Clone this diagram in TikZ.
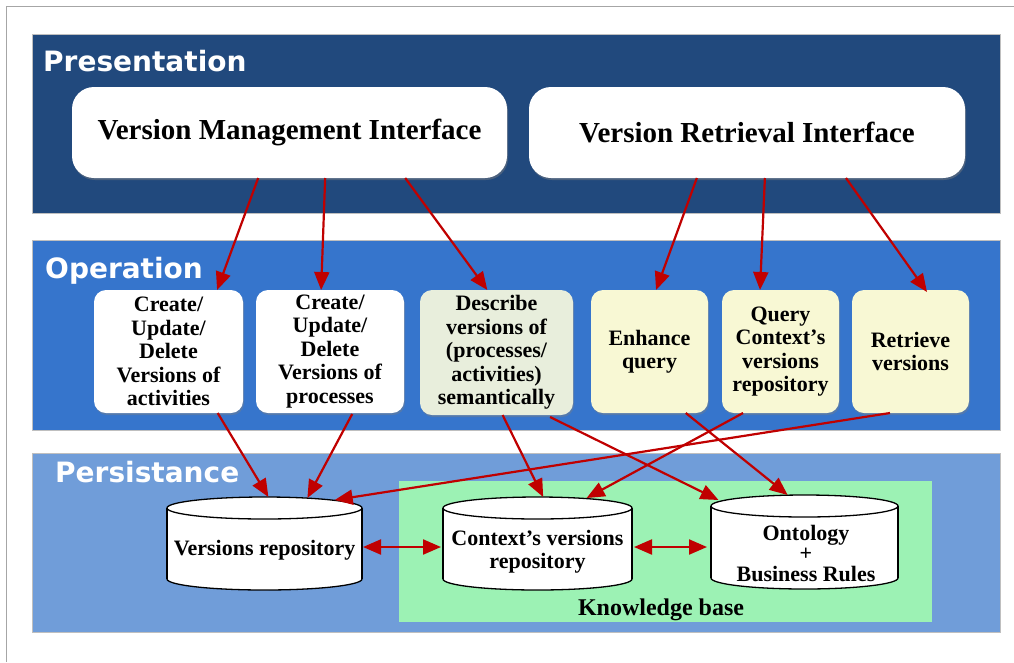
\documentclass[tikz,border=0pt]{standalone}
\usepackage{fontspec}
\setmainfont{Liberation Serif}
\newfontfamily\bandfont{DejaVu Sans}
\usetikzlibrary{arrows.meta,calc,shadows}
\definecolor{presblue}{RGB}{33,73,125}
\definecolor{opblue}{RGB}{54,117,204}
\definecolor{persblue}{RGB}{112,157,217}
\definecolor{kbgreen}{RGB}{156,242,180}
\definecolor{descfill}{RGB}{232,238,220}
\definecolor{qfill}{RGB}{248,248,212}
\definecolor{arrred}{RGB}{192,0,0}
\newcommand\drawcyl[4]{%
  \pgfmathsetmacro\cX{(#1+#2)/2}%
  \pgfmathsetmacro\cRX{(#2-#1)/2}%
  \draw[fill=white, line width=1.3pt] (\cX,#4-11) ellipse [x radius=\cRX pt, y radius=11pt];
  \fill[white] (#1,#3+11) rectangle (#2,#4-11);
  \draw[line width=1.3pt] (#1,#3+11) -- (#1,#4-11);
  \draw[line width=1.3pt] (#2,#3+11) -- (#2,#4-11);
  \draw[fill=white, line width=1.3pt] (\cX,#3+11) ellipse [x radius=\cRX pt, y radius=11pt];
}
\begin{document}
\begin{tikzpicture}[x=1pt,y=-1pt,
  band/.style={draw=gray!50, line width=0.8pt, anchor=north west, inner sep=0pt, outer sep=0pt},
  bandtitle/.style={anchor=base west, text=white, font=\bandfont\bfseries\fontsize{28}{30}\selectfont, inner sep=0pt},
  iface/.style={fill=white, rounded corners=22pt, minimum width=435pt, minimum height=91pt, inner sep=0pt, outer sep=0pt,
    font=\bfseries\fontsize{29}{31}\selectfont, drop shadow={opacity=0.45, shadow xshift=1pt, shadow yshift=-2pt}},
  opbox/.style={rounded corners=12pt, minimum height=123pt, inner sep=0pt, outer sep=0pt, align=center,
    font=\bfseries\fontsize{22}{23.5}\selectfont, drop shadow={opacity=0.4, shadow xshift=1pt, shadow yshift=-2pt}},
  cylbox/.style={minimum height=93pt, inner sep=0pt, outer sep=0pt},
  cyltext/.style={align=center, inner sep=0pt},
  link/.style={draw=arrred, line width=2.2pt, -{Triangle[length=18pt,width=15pt]}},
  dlink/.style={draw=arrred, line width=2.2pt, {Triangle[length=18pt,width=15pt]}-{Triangle[length=18pt,width=15pt]}}
]
\useasboundingbox (0,0) rectangle (1014,662);
\fill[white] (0,0) rectangle (1014,662);
\draw[gray!70, line width=1pt] (6,662) -- (6,6) -- (1014,6);

% bands
\node[band, fill=presblue, minimum width=968pt, minimum height=179pt] (pres) at (32,34) {};
\node[band, fill=opblue, minimum width=968pt, minimum height=190pt] (oper) at (32,240) {};
\node[band, fill=persblue, minimum width=968pt, minimum height=179pt] (pers) at (32,453) {};
\node[anchor=north west, fill=kbgreen, minimum width=533pt, minimum height=141pt, inner sep=0pt, outer sep=0pt] (kb) at (399,481) {};

\node[bandtitle] (prest) at (43,71) {Presentation};
\node[bandtitle] (opert) at (45,278) {Operation};
\node[bandtitle] (perst) at (55,482) {Persistance};

% interfaces
\node[iface] (vmi) at (289.5,132.5) {Version Management Interface};
\node[iface, minimum width=436pt] (vri) at (747,132.5) {Version Retrieval Interface};

% operation boxes
\node[opbox, fill=white, minimum width=149pt] (op1) at (168.5,351.5) {Create/\\Update/\\Delete\\Versions of\\activities};
\node[opbox, fill=white, minimum width=148pt] (op2) at (330,351.5) {Create/\\Update/\\Delete\\Versions of\\processes};
\node[opbox, fill=descfill, minimum width=153pt, minimum height=125pt] (op3) at (496.5,352.5) {Describe\\versions of\\(processes/\\activities)\\semantically};
\node[opbox, fill=qfill, minimum width=117pt] (op4) at (649.5,351.5) {Enhance\\query};
\node[opbox, fill=qfill, minimum width=117pt] (op5) at (780.5,351.5) {Query\\Context’s\\versions\\repository};
\node[opbox, fill=qfill, minimum width=117pt] (op6) at (910.5,351.5) {Retrieve\\versions};

% cylinders
\drawcyl{167}{362}{497}{590}
\drawcyl{443}{632}{497}{590}
\drawcyl{711}{898}{495}{589}
\node[cylbox, minimum width=195pt] (vrep) at (264.5,543.5) {};
\node[cylbox, minimum width=189pt] (ctx) at (537.5,543.5) {};
\node[cylbox, minimum width=187pt, minimum height=94pt] (onto) at (804.5,542) {};
\node[cyltext, font=\bfseries\fontsize{22}{23}\selectfont] (vrept) at (264.5,550) {Versions repository};
\node[cyltext, font=\bfseries\fontsize{22}{23}\selectfont] (ctxt) at (537.5,552) {Context’s versions\\repository};
\node[cyltext, font=\bfseries\fontsize{22}{20.5}\selectfont] (ontot) at (806,553) {Ontology\\+\\Business Rules};
\node[anchor=base, inner sep=0pt, font=\bfseries\fontsize{24}{26}\selectfont] (kbt) at (661,615) {Knowledge base};

% arrows presentation -> operation
\draw[link] ($(vmi.south west)!0.428!(vmi.south east)$) -- ($(op1.north west)!0.826!(op1.north east)$);
\draw[link] ($(vmi.south west)!0.582!(vmi.south east)$) -- ($(op2.north west)!0.440!(op2.north east)$);
\draw[link] ($(vmi.south west)!0.766!(vmi.south east)$) -- ($(op3.north west)!0.440!(op3.north east)$);
\draw[link] ($(vri.south west)!0.385!(vri.south east)$) -- ($(op4.north west)!0.556!(op4.north east)$);
\draw[link] ($(vri.south west)!0.541!(vri.south east)$) -- ($(op5.north west)!0.325!(op5.north east)$);
\draw[link] ($(vri.south west)!0.727!(vri.south east)$) -- ($(op6.north west)!0.641!(op6.north east)+(0,2)$);

% arrows operation -> persistance
\draw[link] ($(op1.south west)!0.83!(op1.south east)$) -- ($(vrep.north west)!0.52!(vrep.north east)$);
\draw[link] ($(op2.south west)!0.65!(op2.south east)+(0,1)$) -- ($(vrep.north west)!0.72!(vrep.north east)+(0,1)$);
\draw[link] ($(op6.south west)!0.325!(op6.south east)$) -- ($(vrep.north west)!0.86!(vrep.north east)+(0,3)$);
\draw[link] ($(op3.south west)!0.54!(op3.south east)$) -- ($(ctx.north west)!0.53!(ctx.north east)$);
\draw[link] ($(op3.south west)!0.85!(op3.south east)+(0,2)$) -- ($(onto.north west)!0.04!(onto.north east)+(0,5)$);
\draw[link] ($(op4.south west)!0.81!(op4.south east)$) -- ($(onto.north west)!0.41!(onto.north east)$);
\draw[link] ($(op5.south west)!0.18!(op5.south east)$) -- ($(ctx.north west)!0.76!(ctx.north east)+(0,1)$);

% double arrows
\draw[dlink] ($(vrep.east)+(1,3.5)$) -- ($(ctx.west)+(-2,3.5)$);
\draw[dlink] ($(ctx.east)+(2,3.5)$) -- ($(onto.west)+(-4,5)$);
\end{tikzpicture}
\end{document}
